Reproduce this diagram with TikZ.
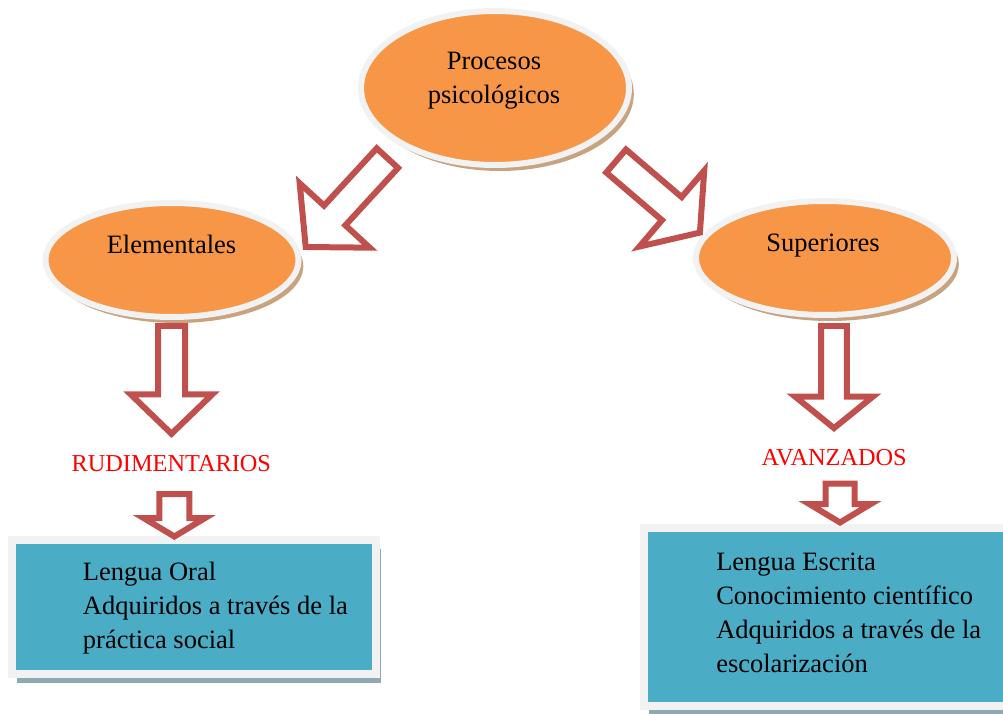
\documentclass[tikz,border=0pt]{standalone}
\usepackage{fontspec}
\setmainfont{Liberation Serif}
\usetikzlibrary{shapes.geometric, shapes.arrows, shadows}

\definecolor{procorange}{HTML}{F79646}
\definecolor{rimgrey}{HTML}{F2F2F2}
\definecolor{shadetan}{HTML}{C9A27F}
\definecolor{arrowred}{HTML}{C0504D}
\definecolor{boxteal}{HTML}{4BACC6}
\definecolor{boxshade}{HTML}{8FA9B3}

\begin{document}
\begin{tikzpicture}[
  bubble/.style={ellipse, fill=procorange, draw=rimgrey, line width=0.15cm, inner sep=0,
    drop shadow={shadow xshift=0.12cm, shadow yshift=-0.15cm, fill=shadetan, opacity=1}},
  infobox/.style={rectangle, fill=boxteal, draw=rimgrey, line width=0.2cm, inner sep=0,
    drop shadow={shadow xshift=0.12cm, shadow yshift=-0.22cm, fill=boxshade, opacity=1}},
  blockarrow/.style={single arrow, draw=arrowred, fill=white, line width=0.15cm, line join=miter,
    inner xsep=0, outer sep=0, minimum width=0, anchor=tip},
  bigtext/.style={font=\fontsize{18.85}{24.2}\selectfont, inner sep=0},
  redtext/.style={text=red, font=\fontsize{17.3}{20}\selectfont, inner sep=0, anchor=base}
]
\path[use as bounding box, clip] (0,0) rectangle (25.075,17.825);

\node[bubble, minimum width=6.7cm, minimum height=3.85cm] (p0) at (12.375,15.625) {};
\node[bubble, minimum width=6.325cm, minimum height=2.85cm] (p1) at (4.3,11.325) {};
\node[bubble, minimum width=6.45cm, minimum height=2.85cm] (p2) at (20.625,11.375) {};
% base anchor sits on the last line
\node[bigtext, align=center, anchor=base] (t0) at (12.35,15.225) {Procesos\\psicológicos};
\node[bigtext, anchor=base] (t1) at (4.2875,11.475) {Elementales};
\node[bigtext, anchor=base] (t2) at (20.575,11.525) {Superiores};

\node[redtext] (r1) at (4.2825,6.0325) {RUDIMENTARIOS};
\node[redtext] (r2) at (20.855,6.1825) {AVANZADOS};

\node[infobox, minimum width=9.1125cm, minimum height=3.3625cm] (b1) at (4.856,2.644) {};
\node[infobox, minimum width=9.4cm, minimum height=4.45cm] (b2) at (20.8,2.4) {};
\node[bigtext, align=left, anchor=base west] (l1) at (2.0675,1.6175) {Lengua Oral\\Adquiridos a través de la\\práctica social};
\node[bigtext, align=left, anchor=base west] (l2) at (17.9,1.0175) {Lengua Escrita\\Conocimiento científico\\Adquiridos a través de la\\escolarización};

% Block arrows:
\node[blockarrow, rotate=227.4, minimum height=3.0175cm, inner ysep=0.2875cm, single arrow head extend=0.8275cm, single arrow tip angle=96] (a1) at (7.6425,11.65) {};
\node[blockarrow, rotate=-40.5, minimum height=2.755cm, inner ysep=0.304cm, single arrow head extend=0.869cm, single arrow tip angle=107] (a2) at (17.4975,12.01) {};
\node[blockarrow, rotate=-90, minimum height=2.695cm, inner ysep=0.2625cm, single arrow head extend=0.68cm, single arrow tip angle=92] (a3) at (4.2875,6.98) {};
\node[blockarrow, rotate=-90, minimum height=2.5525cm, inner ysep=0.246cm, single arrow head extend=0.654cm, single arrow tip angle=102] (a4) at (20.85,7.1225) {};
\node[blockarrow, rotate=-90, minimum height=1.0625cm, inner ysep=0.3cm, single arrow head extend=0.3875cm, single arrow tip angle=118] (a5) at (4.359,4.4125) {};
\node[blockarrow, rotate=-90, minimum height=0.97cm, inner ysep=0.2875cm, single arrow head extend=0.4cm, single arrow tip angle=118] (a6) at (21.0,4.7625) {};
\end{tikzpicture}
\end{document}
